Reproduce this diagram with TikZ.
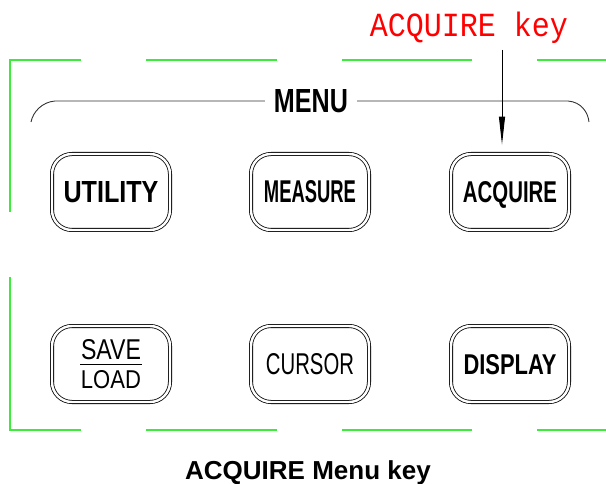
\documentclass[tikz,border=0pt]{standalone}
\usepackage{fontspec}
\setmainfont{Liberation Sans}
\newfontfamily\monofnt{Liberation Mono}
\usetikzlibrary{arrows.meta}
\definecolor{framegreen}{RGB}{60,235,60}
\definecolor{keyred}{RGB}{255,0,0}
\newcommand\fitbox[3]{\resizebox{#1}{#2}{#3}}
\tikzset{
  keyb/.style={draw, double=white, double distance=2.4pt, line width=0.8pt,
    rounded corners=20pt, minimum width=118pt, minimum height=76pt,
    inner sep=0pt, text depth=0pt},
  frameline/.style={draw=framegreen, line width=1.4pt},
  menuline/.style={draw=black!80, line width=0.9pt},
  pointer/.style={draw, line width=0.9pt, -{Triangle[length=28pt,width=6pt]}}
}
\begin{document}
\begin{tikzpicture}[x=1pt,y=-1pt]
\useasboundingbox (0,0) rectangle (606,484);
% green frame
\draw[frameline] (81,60) -- (10,60) -- (10,212);
\draw[frameline] (146,60) -- (277,60);
\draw[frameline] (342,60) -- (472,60);
\draw[frameline] (537,60) -- (606,60);
\draw[frameline] (10,277) -- (10,430) -- (81,430);
\draw[frameline] (146,430) -- (277,430);
\draw[frameline] (342,430) -- (472,430);
\draw[frameline] (537,430) -- (606,430);
% MENU
\node[inner sep=0pt, text depth=0pt] (menu) at (311,101) {\fitbox{74pt}{23pt}{\bfseries MENU}};
\draw[menuline] ([xshift=-9pt]menu.west) -- (55,101) .. controls (42,102) and (33,112) .. (31,122);
\draw[menuline] ([xshift=9pt]menu.east) -- (568,101) .. controls (581,102) and (588,112) .. (589,122);
% keys
\node[keyb] (utility) at (111,192) {\fitbox{95pt}{21pt}{\bfseries UTILITY}};
\node[keyb] (measure) at (310,192) {\fitbox{92pt}{22pt}{\bfseries MEASURE}};
\node[keyb] (acquire) at (510,192) {\fitbox{94pt}{21pt}{\bfseries ACQUIRE}};
\node[keyb] (saveload) at (111,364) {\vbox{\offinterlineskip
  \hbox to 62pt{\hss\fitbox{60pt}{20pt}{SAVE}\hss}\kern3.5pt
  \hbox{\rule{62pt}{1pt}}\kern5.5pt
  \hbox to 62pt{\hss\fitbox{60pt}{18pt}{LOAD}\hss}}};
\node[keyb] (cursor) at (310,364) {\fitbox{88pt}{21pt}{CURSOR}};
\node[keyb] (display) at (510,364) {\fitbox{93pt}{20pt}{\bfseries DISPLAY}};
% pointer label
\node[anchor=base, inner sep=0pt, text=keyred] (acqlabel) at (469,37) {\fitbox{198pt}{24.5pt}{\monofnt ACQUIRE key}};
\coordinate (arrtop) at (502,50);
\draw[pointer, shorten >=9pt] (arrtop) -- (arrtop |- acquire.north);
% caption
\node[anchor=base, inner sep=0pt] (caption) at (308,479) {\fontsize{26pt}{30pt}\selectfont\bfseries ACQUIRE Menu key};
\end{tikzpicture}
\end{document}
